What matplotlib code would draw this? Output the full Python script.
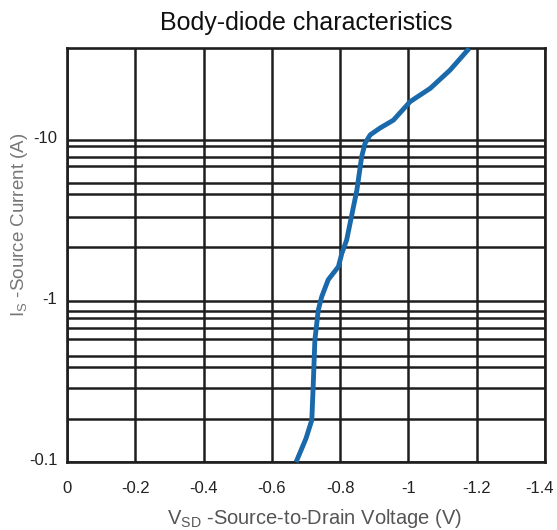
import matplotlib
matplotlib.use("Agg")
import matplotlib.pyplot as plt
from matplotlib.ticker import FixedLocator, NullFormatter
from matplotlib.transforms import ScaledTranslation

plt.rcParams['font.family'] = ['Liberation Sans', 'DejaVu Sans']
plt.rcParams['mathtext.fontset'] = 'custom'
plt.rcParams['mathtext.rm'] = 'Liberation Sans'

# Curve: source-to-drain voltage (V) and source current magnitude (A)
vsd = [-0.671, -0.700, -0.717, -0.721, -0.726, -0.736, -0.746, -0.765, -0.795,
       -0.805, -0.819, -0.849, -0.863, -0.873, -0.888, -0.917, -0.956, -1.005,
       -1.064, -1.122, -1.178]
isrc = [0.100, 0.140, 0.182, 0.293, 0.571, 0.877, 1.06, 1.35, 1.63,
        1.97, 2.38, 4.86, 7.83, 9.49, 10.7, 11.8, 13.2, 17.2,
        20.8, 27.0, 36.8]

x_ticks = [0, -0.2, -0.4, -0.6, -0.8, -1.0, -1.2, -1.4]
x_labels = ["0", "-0.2", "-0.4", "-0.6", "-0.8", "-1", "-1.2", "-1.4"]
y_ticks = [0.1, 1, 10]
y_labels = ["-0.1", "-1", "-10"]
# horizontal grid levels drawn in the chart (magnitudes, A)
y_grid_minor = [0.185, 0.286, 0.39, 0.456, 0.58, 0.675, 0.778, 0.865,
                2.17, 3.33, 4.6, 5.38, 6.86, 7.83, 9.12]

fig = plt.figure(figsize=(5.57, 5.30), dpi=100)
ax = fig.add_axes([67/557, 1-462/530, (545-67)/557, (462-48)/530])

ax.set_yscale('log')
ax.set_xlim(0, -1.4)
ax.set_ylim(0.1, 37)

gcol = '#1e1e1e'
ax.xaxis.set_major_locator(FixedLocator(x_ticks))
ax.set_xticklabels(x_labels)
ax.yaxis.set_major_locator(FixedLocator(y_ticks))
ax.set_yticklabels(y_labels)
ax.yaxis.set_minor_locator(FixedLocator(y_grid_minor))
ax.yaxis.set_minor_formatter(NullFormatter())

ax.grid(True, which='major', axis='both', color=gcol, linewidth=1.8)
ax.grid(True, which='minor', axis='y', color=gcol, linewidth=1.8)
ax.set_axisbelow(True)

for s in ax.spines.values():
    s.set_color(gcol)
    s.set_linewidth(1.9)

ax.tick_params(axis='both', which='both', length=0)
ax.tick_params(axis='x', pad=14, labelsize=12, labelcolor='#222222')
ax.tick_params(axis='y', pad=7, labelsize=12, labelcolor='#222222')

# nudge the last x tick label left so it stays inside the figure
last = ax.xaxis.get_major_ticks()[-1].label1
last.set_transform(last.get_transform() + ScaledTranslation(-6/100, 0, fig.dpi_scale_trans))
# y tick labels sit slightly above their lines in the reference
for t in ax.yaxis.get_major_ticks():
    t.label1.set_transform(t.label1.get_transform() + ScaledTranslation(0, 3/100, fig.dpi_scale_trans))

ax.plot(vsd, isrc, color='#1a6aab', linewidth=3.5, solid_capstyle='butt',
        solid_joinstyle='round', clip_on=False, zorder=5)

ax.set_title('Body-diode characteristics', fontsize=18, color='#111111', pad=13)
ax.set_xlabel(r'$\mathregular{V_{SD}}$ -Source-to-Drain Voltage (V)', fontsize=14.5,
              color='#555555')
ax.xaxis.set_label_coords(0.517, -0.149)
ax.xaxis.label.set_va('baseline')
ax.set_ylabel(r'$\mathregular{I_S}$ -Source Current (A)', fontsize=13.5,
              color='#777777')
ax.yaxis.set_label_coords(-0.077, 0.5725)

fig.savefig('out.png', dpi=100)
